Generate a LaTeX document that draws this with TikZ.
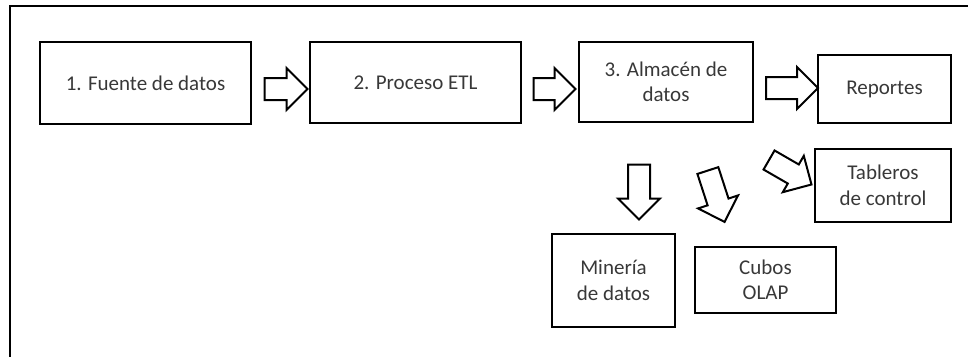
\documentclass[tikz,border=0pt]{standalone}
\usepackage{fontspec}
\setmainfont{Carlito}
\usetikzlibrary{shapes.arrows}

\begin{document}
\begin{tikzpicture}[x=1pt,y=1pt,
box/.style ={draw,line width=2pt,align=center,text=black!78,
  font=\fontsize{21}{25.5}\selectfont},
flecha/.style ={draw,line width=2pt,fill=white,shape=single arrow,
  inner sep=0pt,single arrow head extend=10pt,
  single arrow tip angle=90,single arrow head indent=0pt}]

\useasboundingbox (0,0) rectangle (968,-356);
% marco
\draw[line width=2pt] (968,-6) -- (10,-6) -- (10,-360);

\node[box,minimum width=211pt,minimum height=82pt] (F) at (145.5,-83) {1. Fuente de datos};
\node[box,minimum width=211pt,minimum height=81pt] (E) at (415.5,-82.5) {2. Proceso ETL};
\node[box,minimum width=174pt,minimum height=80pt] (A) at (666,-82) {3. Almac\'en de\\datos};
\node[box,minimum width=133pt,minimum height=68pt] (R) at (884.5,-89) {Reportes};
\node[box,minimum width=136pt,minimum height=73pt] (T) at (883,-185.5) {Tableros\\de control};
\node[box,minimum width=123pt,minimum height=93pt] (M) at (613.5,-280.5) {Miner\'ia\\de datos};
\node[box,minimum width=141pt,minimum height=66pt] (C) at (765.5,-280) {Cubos\\OLAP};

% flechas de bloque (el \rule fija el ancho del cuerpo)
\node[flecha,minimum height=43pt] (f1) at (280.5,-89) {\rule{0pt}{20pt}};
\node[flecha,minimum height=42pt] (f2) at (549,-89) {\rule{0pt}{20pt}};
\node[flecha,minimum height=52pt] (f3) at (786.5,-88) {\rule{0pt}{20pt}};
\node[flecha,minimum height=55pt,rotate=-90] (f4) at (639,-186.5) {\rule{0pt}{20pt}};
\node[flecha,minimum height=54pt,rotate=-72] (f5) at (714.5,-191) {\rule{0pt}{20pt}};
\node[flecha,minimum height=49pt,rotate=-30] (f6) at (785.5,-169.5) {\rule{0pt}{20pt}};

\end{tikzpicture}
\end{document}
